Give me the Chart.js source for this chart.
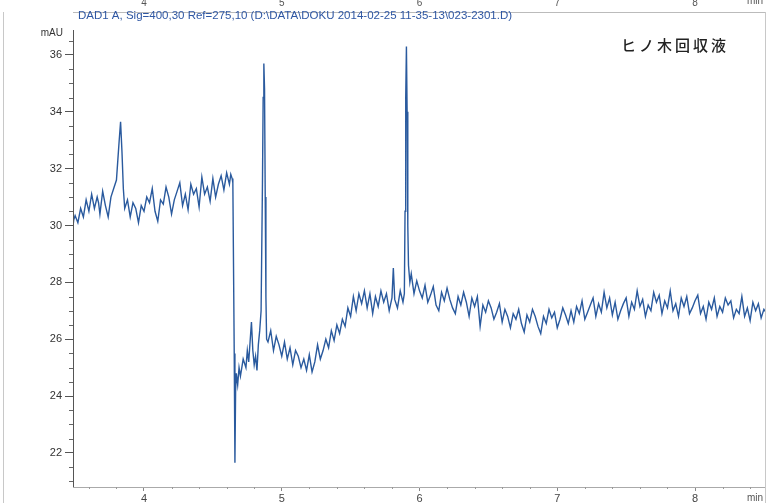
<!DOCTYPE html>
<html>
<head>
<meta charset="utf-8">
<script src="https://cdn.jsdelivr.net/npm/chart.js@4.4.1/dist/chart.umd.min.js"></script>
<style>
  html, body { margin: 0; padding: 0; background: #fff; }
  canvas { display: block; }
</style>
</head>
<body>
<canvas id="chrom" width="767" height="503"></canvas>
<script>
// ---- data: [time (min), signal (mAU)] ----
const runStart = [[3.48,29.75],[3.49,30.2],[3.50,30.35],[3.52,30.1],[3.54,30.6],[3.56,30.3],[3.58,30.9],[3.60,30.5],
  [3.62,31.1],[3.64,30.6],[3.66,31.0],[3.67,30.8],[3.68,30.4],[3.70,31.2],[3.72,30.7],[3.74,30.3],[3.76,31.0],[3.78,31.3]];

const firstPeak = [[3.80,31.6],[3.81,32.3],[3.82,33.0],[3.83,33.65],[3.84,32.6],[3.85,31.3],[3.86,30.6]];

const plateau = [[3.88,30.9],[3.90,30.3],[3.92,30.8],[3.94,30.6],[3.96,30.1],[3.98,30.7],[4.00,30.5],[4.02,31.0],
  [4.04,30.8],[4.06,31.3],[4.08,30.5],[4.10,30.15],[4.12,30.9],[4.14,30.75],[4.16,31.35],[4.18,31.0],[4.20,30.4],
  [4.22,30.9],[4.24,31.2],[4.26,31.5],[4.28,30.7],[4.30,31.1],[4.32,30.55],[4.34,31.45],[4.36,31.1],[4.38,31.3],
  [4.40,30.65],[4.42,31.7],[4.44,31.1],[4.46,31.35],[4.48,30.85],[4.50,31.65],[4.52,31.0],[4.54,31.45],[4.56,31.75],
  [4.58,31.25],[4.60,31.85],[4.62,31.45],[4.63,31.8],[4.64,31.65],[4.645,31.5]];

const solventDip = [[4.655,25.5],[4.66,21.65],[4.665,24.2],[4.67,24.8],[4.68,24.4],[4.69,25.0],[4.70,24.7],
  [4.72,25.3],[4.74,25.0],[4.75,25.6],[4.76,25.2],[4.77,25.9],[4.78,26.6],[4.79,25.6],[4.80,25.1],[4.81,25.4],
  [4.82,24.9],[4.83,25.8],[4.84,26.3]];

const secondPeak = [[4.85,27.0],[4.86,31.5],[4.865,34.5],[4.87,35.7],[4.875,34.8],[4.88,31.0],[4.885,27.5],[4.89,26.0]];

const valley = [[4.90,25.9],[4.92,26.3],[4.94,25.6],[4.96,26.1],[4.98,25.8],[5.00,25.4],[5.02,25.9],[5.04,25.3],
  [5.06,25.7],[5.08,25.1],[5.10,25.6],[5.12,25.4],[5.14,25.0],[5.16,25.3],[5.18,24.9],[5.20,25.45],[5.22,24.85],
  [5.24,25.2],[5.26,25.8],[5.28,25.3],[5.30,25.6],[5.32,26.0],[5.34,25.7],[5.36,26.3],[5.38,25.95],[5.40,26.5],
  [5.42,26.2],[5.44,26.7],[5.46,26.45],[5.48,27.1],[5.50,26.8],[5.52,27.5],[5.54,27.0],[5.56,27.6],[5.58,27.25],
  [5.60,27.7],[5.62,27.1],[5.64,27.6],[5.66,26.9],[5.68,27.5],[5.70,27.15],[5.72,27.7],[5.74,27.3],[5.76,27.6],
  [5.78,27.0],[5.80,27.45],[5.81,28.5],[5.82,27.4],[5.84,27.1],[5.86,27.7],[5.88,27.3]];

const thirdPeak = [[5.89,27.6],[5.895,30.5],[5.90,34.5],[5.905,36.3],[5.91,34.0],[5.915,30.0],[5.92,28.6],
  [5.93,28.0],[5.94,28.3]];

const tail = [[5.96,27.6],[5.98,28.05],[6.00,27.7],[6.02,27.45],[6.04,27.9],[6.06,27.3],[6.08,27.55],[6.10,27.85],
  [6.12,27.2],[6.14,27.0],[6.16,27.65],[6.18,27.35],[6.20,27.8],[6.22,27.4],[6.24,27.1],[6.26,26.9],[6.28,27.5],
  [6.30,27.2],[6.32,27.65],[6.34,27.3],[6.36,26.8],[6.38,27.45],[6.40,27.15],[6.42,27.5],[6.44,26.45],[6.46,27.2],
  [6.48,26.95],[6.50,27.35],[6.52,27.1],[6.54,26.7],[6.56,26.95],[6.58,27.25],[6.60,26.6],[6.62,27.05],[6.64,26.8],
  [6.66,26.4],[6.68,26.9],[6.70,26.7],[6.72,27.05],[6.74,26.55],[6.76,26.25],[6.78,26.85],[6.80,26.6],[6.82,27.05],
  [6.84,26.8],[6.86,26.45],[6.88,26.2],[6.90,26.8],[6.92,26.55],[6.94,27.05],[6.96,26.75],[6.98,26.95],[7.00,26.4],
  [7.02,26.7],[7.04,27.1],[7.06,26.85],[7.08,26.55],[7.10,27.0],[7.12,26.6],[7.14,27.15],[7.16,26.9],[7.18,27.35],
  [7.20,26.7],[7.22,26.95],[7.24,27.2],[7.26,27.45],[7.28,26.8],[7.30,27.25],[7.32,26.95],[7.34,27.65],[7.36,27.1],
  [7.38,27.45],[7.40,26.85],[7.42,27.3],[7.44,26.7],[7.46,27.0],[7.48,27.25],[7.50,27.45],[7.52,26.8],[7.54,27.3],
  [7.56,27.05],[7.58,27.7],[7.60,27.15],[7.62,27.4],[7.64,26.8],[7.66,27.2],[7.68,27.0],[7.70,27.65],[7.72,27.3],
  [7.74,27.55],[7.76,26.9],[7.78,27.35],[7.80,27.1],[7.82,27.7],[7.84,27.0],[7.86,27.25],[7.88,26.8],[7.90,27.45],
  [7.92,27.15],[7.94,27.5],[7.96,26.9],[7.98,27.1],[8.00,27.35],[8.02,27.55],[8.04,26.9],[8.06,27.15],[8.08,26.7],
  [8.10,27.3],[8.12,27.05],[8.14,27.45],[8.16,26.8],[8.18,27.15],[8.20,26.95],[8.22,27.45],[8.24,27.2],[8.26,27.35],
  [8.28,26.75],[8.30,27.05],[8.32,26.9],[8.34,27.5],[8.36,26.8],[8.38,27.1],[8.40,26.65],[8.42,27.3],[8.44,27.0],
  [8.46,27.25],[8.48,26.75],[8.50,27.05],[8.52,26.9]];

// tick labels
const xTicks = [4, 5, 6, 7, 8];
const yTicks = [22, 24, 26, 28, 30, 32, 34, 36];

const TITLE = "DAD1 A, Sig=400,30 Ref=275,10 (D:\\DATA\\DOKU 2014-02-25 11-35-13\\023-2301.D)";
const SAMPLE = "ヒノ木回収液";

// axis window (matches the printout)
const X_MIN = 3.4846, X_MAX = 8.508;
const Y_MIN = 20.80, Y_MAX = 37.51;

const trace = [...runStart, ...firstPeak, ...plateau, ...solventDip, ...secondPeak, ...valley, ...thirdPeak, ...tail]
  .map(([t, v]) => ({ x: t, y: v }));

// extra drawing: title, labels, minor ticks, page frame
const decor = {
  id: "decor",
  afterDraw(chart) {
    const { ctx, chartArea: a, scales } = chart;
    const xs = scales.x, ys = scales.y;
    ctx.save();

    // page frame lines from the scan
    ctx.strokeStyle = "#c8c8c8";
    ctx.lineWidth = 1;
    ctx.beginPath();
    ctx.moveTo(3.5, 12); ctx.lineTo(3.5, 503);
    ctx.moveTo(765.5, 12); ctx.lineTo(765.5, 503);
    ctx.stroke();

    // y axis line (starts just under mAU)
    ctx.strokeStyle = "#555";
    ctx.beginPath();
    ctx.moveTo(a.left + 0.5, 30);
    ctx.lineTo(a.left + 0.5, a.bottom);
    ctx.stroke();

    // minor y ticks every 0.5
    ctx.strokeStyle = "#666";
    ctx.beginPath();
    for (let v = 21; v <= 36.5; v += 0.5) {
      if (v % 2 === 0) continue;
      const py = Math.round(ys.getPixelForValue(v)) + 0.5;
      ctx.moveTo(a.left - 4, py); ctx.lineTo(a.left, py);
    }
    ctx.stroke();

    // minor x ticks every 0.2
    ctx.strokeStyle = "#999";
    ctx.beginPath();
    for (let k = 18; k <= 42; k++) {
      const v = k / 5;
      if (Number.isInteger(v)) continue;
      const px = Math.round(xs.getPixelForValue(v)) + 0.5;
      ctx.moveTo(px, a.bottom); ctx.lineTo(px, a.bottom + 2);
    }
    ctx.stroke();

    // title
    ctx.fillStyle = "#2f57a3";
    ctx.font = "11.5px 'Liberation Sans', Arial, sans-serif";
    ctx.textBaseline = "middle";
    ctx.textAlign = "left";
    ctx.fillText(TITLE, 78, 16);

    // unit labels
    ctx.fillStyle = "#333";
    ctx.font = "10px 'Liberation Sans', Arial, sans-serif";
    ctx.textAlign = "right";
    ctx.fillText("mAU", 63, 33);
    ctx.fillStyle = "#555";
    ctx.textAlign = "left";
    ctx.fillText("min", 747, 498);
    ctx.fillText("min", 747, 1);

    // sample name
    ctx.fillStyle = "#222";
    ctx.font = "500 15px 'Noto Sans CJK JP', sans-serif";
    ctx.letterSpacing = "3px";
    ctx.fillText(SAMPLE, 621, 45);

    ctx.restore();
  }
};

new Chart(document.getElementById("chrom").getContext("2d"), {
  type: "line",
  data: {
    datasets: [{
      data: trace,
      xAxisID: "x",
      yAxisID: "y",
      borderColor: "#2a5a9e",
      borderWidth: 1.4,
      pointRadius: 0,
      tension: 0,
      fill: false
    }]
  },
  options: {
    responsive: false,
    animation: false,
    layout: { padding: { left: 0, right: 2, top: 0, bottom: 0 } },
    plugins: { legend: { display: false }, tooltip: { enabled: false } },
    scales: {
      x: {
        type: "linear",
        position: "bottom",
        min: X_MIN,
        max: X_MAX,
        afterBuildTicks: s => { s.ticks = xTicks.map(v => ({ value: v })); },
        afterFit: s => { s.height = 16; },
        ticks: {
          color: "#444",
          font: { size: 11, family: "'Liberation Sans', Arial, sans-serif" },
          padding: 1,
          maxRotation: 0,
          autoSkip: false
        },
        grid: { drawOnChartArea: false, tickLength: 4, color: "#888" },
        border: { color: "#aaa", dash: [2, 3] }
      },
      x2: {
        type: "linear",
        position: "top",
        min: X_MIN,
        max: X_MAX,
        afterBuildTicks: s => { s.ticks = xTicks.map(v => ({ value: v })); },
        afterFit: s => { s.height = 12; },
        ticks: {
          color: "#555",
          font: { size: 10, family: "'Liberation Sans', Arial, sans-serif" },
          padding: 3,
          maxRotation: 0,
          autoSkip: false
        },
        grid: { drawOnChartArea: false, drawTicks: false, tickLength: 0 },
        border: { color: "#bbb" }
      },
      y: {
        type: "linear",
        position: "left",
        min: Y_MIN,
        max: Y_MAX,
        afterBuildTicks: s => { s.ticks = yTicks.map(v => ({ value: v })); },
        afterFit: s => { s.width = 73; },
        ticks: {
          color: "#333",
          font: { size: 11, family: "'Liberation Sans', Arial, sans-serif" },
          padding: 3
        },
        grid: { drawOnChartArea: false, tickLength: 8, color: "#555" },
        border: { display: false }
      }
    }
  },
  plugins: [decor]
});
</script>
</body>
</html>
